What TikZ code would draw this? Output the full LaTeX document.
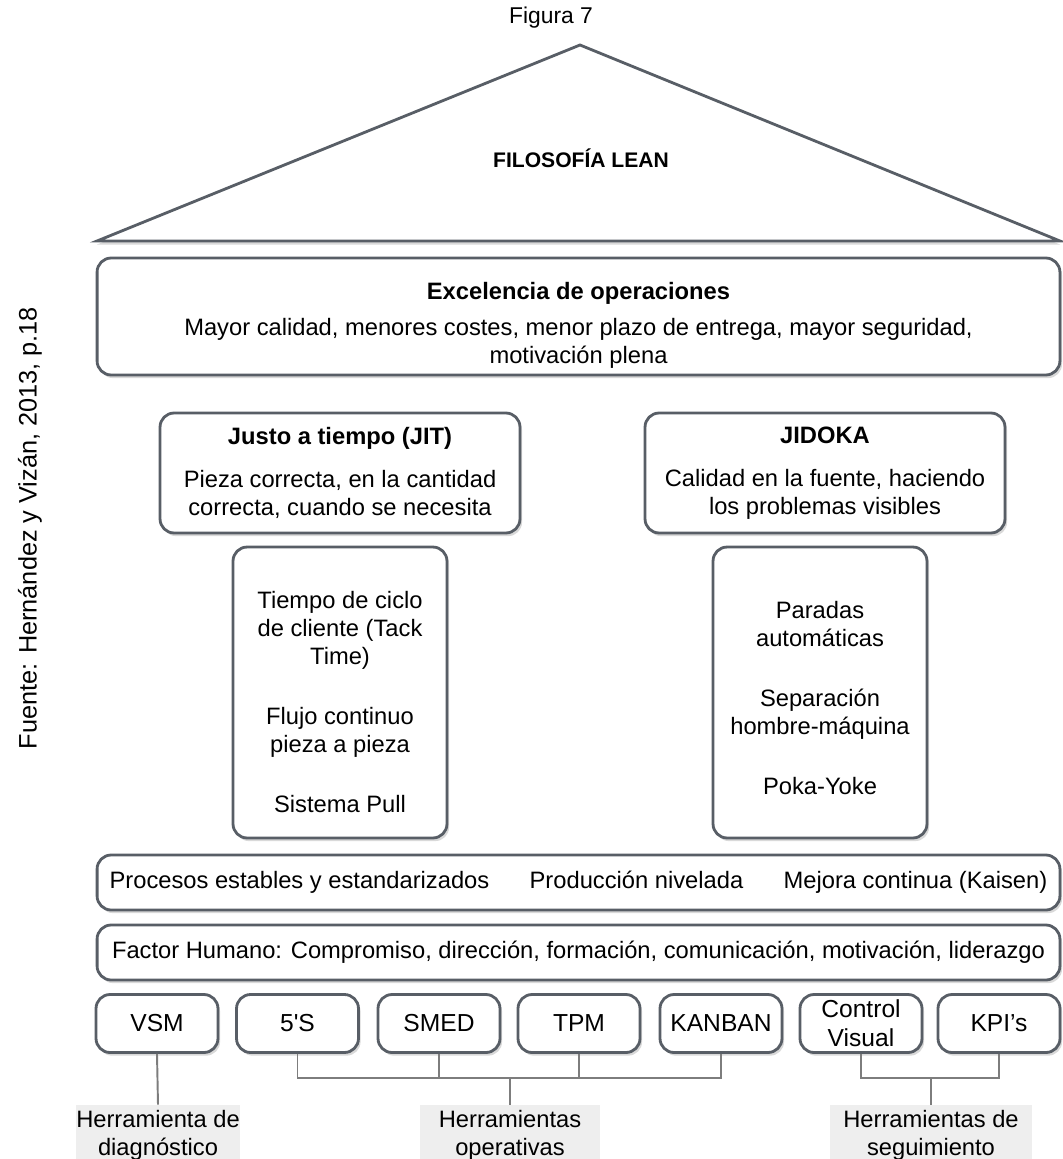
\documentclass[tikz,border=0pt]{standalone}
\usepackage{fontspec}
\setmainfont{Liberation Sans}
\usetikzlibrary{shadows}
\definecolor{edgegray}{RGB}{88,94,102}
\definecolor{wiregray}{RGB}{125,125,125}
\definecolor{tagfill}{RGB}{238,238,238}
\tikzset{
  blk/.style={draw=edgegray, line width=1.6pt, rounded corners=8pt, fill=white, align=center, inner sep=2pt,
    drop shadow={opacity=0.3, shadow xshift=1.2pt, shadow yshift=-1.8pt}},
  tool/.style={blk, minimum width=2.44cm, minimum height=1.16cm, font=\fontsize{14}{16.5}\selectfont},
  tag/.style={fill=tagfill, align=center, inner sep=0pt, minimum height=1.2cm},
  txt/.style={align=center},
  wire/.style={draw=wiregray, line width=1.1pt}
}
\begin{document}
\begin{tikzpicture}[x=0.02cm, y=-0.02cm, font=\fontsize{13.5}{16}\selectfont]
  \useasboundingbox (0,0) rectangle (1062,1159);
  \node[font=\fontsize{13}{15}\selectfont] (fig) at (551,18) {Figura 7};
  \node[rotate=90, font=\fontsize{14.4}{16}\selectfont] (src) at (30,528) {Fuente: Hernández y Vizán, 2013, p.18};
  % techo
  \draw[draw=edgegray, line width=1.6pt, fill=white, drop shadow={opacity=0.3, shadow xshift=0pt, shadow yshift=-2pt}]
    (97,241) -- (580,45) -- (1060,241) -- cycle;
  \node[font=\bfseries\fontsize{12}{14}\selectfont] (lean) at (581,158) {FILOSOFÍA LEAN};
  % bloques
  \node[blk, minimum width=19.26cm, minimum height=2.34cm] (exc) at (578.5,316.5) {};
  \node[txt] (exctxt) at (578.5,325)
    {\textbf{Excelencia de operaciones}\\[0.16cm] Mayor calidad, menores costes, menor plazo de entrega, mayor seguridad,\\ motivación plena};
  \node[blk, minimum width=7.2cm, minimum height=2.4cm] (jit) at (340,473)
    {\textbf{Justo a tiempo (JIT)}\\[0.3cm] Pieza correcta, en la cantidad\\ correcta, cuando se necesita};
  \node[blk, minimum width=7.2cm, minimum height=2.4cm] (jid) at (825,473)
    {\textbf{JIDOKA}\\[0.3cm] Calidad en la fuente, haciendo\\ los problemas visibles};
  \node[blk, minimum width=4.28cm, minimum height=5.82cm] (jitcol) at (340,692.5) {};
  \node[txt] (jittxt) at (340,702)
    {Tiempo de ciclo\\ de cliente (Tack\\ Time)\\[0.64cm] Flujo continuo\\ pieza a pieza\\[0.64cm] Sistema Pull};
  \node[blk, minimum width=4.28cm, minimum height=5.82cm] (jidcol) at (820,692.5) {};
  \node[txt] (jidtxt) at (820,698)
    {Paradas\\ automáticas\\[0.64cm] Separación\\ hombre-máquina\\[0.64cm] Poka-Yoke};
  \node[blk, minimum width=19.26cm, minimum height=1.1cm] (proc) at (578.5,882.5)
    {Procesos estables y estandarizados\hspace{23pt}Producción nivelada\hspace{23pt}Mejora continua (Kaisen)};
  \node[blk, minimum width=19.26cm, minimum height=1.1cm] (fac) at (578.5,952.5)
    {Factor Humano: Compromiso, dirección, formación, comunicación, motivación, liderazgo};
  % herramientas
  \node[tool] (vsm) at (157,1023.5) {VSM};
  \node[tool] (s5) at (297.5,1023.5) {5\textquotesingle S};
  \node[tool] (smed) at (439,1023.5) {SMED};
  \node[tool] (tpm) at (579,1023.5) {TPM};
  \node[tool] (kanban) at (721,1023.5) {KANBAN};
  \node[tool] (cvis) at (861,1023.5) {Control\\ Visual};
  \node[tool] (kpi) at (999,1023.5) {KPI’s};
  \node[tag, minimum width=3.14cm] (diag) at (158,1135) {Herramienta de\\ diagnóstico};
  \node[tag, minimum width=3.6cm] (oper) at (510,1135) {Herramientas\\ operativas};
  \node[tag, minimum width=4.04cm] (seg) at (931,1135) {Herramientas de\\ seguimiento};
  \coordinate (opbar) at (510,1078);
  \coordinate (segbar) at (931,1078);
  \draw[wire] (vsm.south) -- (diag.north);
  \draw[wire] (s5.south) |- (kanban.south |- opbar) -- (kanban.south);
  \foreach \t in {smed,tpm} \draw[wire] (\t.south) -- (\t.south |- opbar);
  \draw[wire] (oper.north) -- (opbar);
  \draw[wire] (cvis.south) |- (kpi.south |- segbar) -- (kpi.south);
  \draw[wire] (seg.north) -- (segbar);
\end{tikzpicture}
\end{document}
